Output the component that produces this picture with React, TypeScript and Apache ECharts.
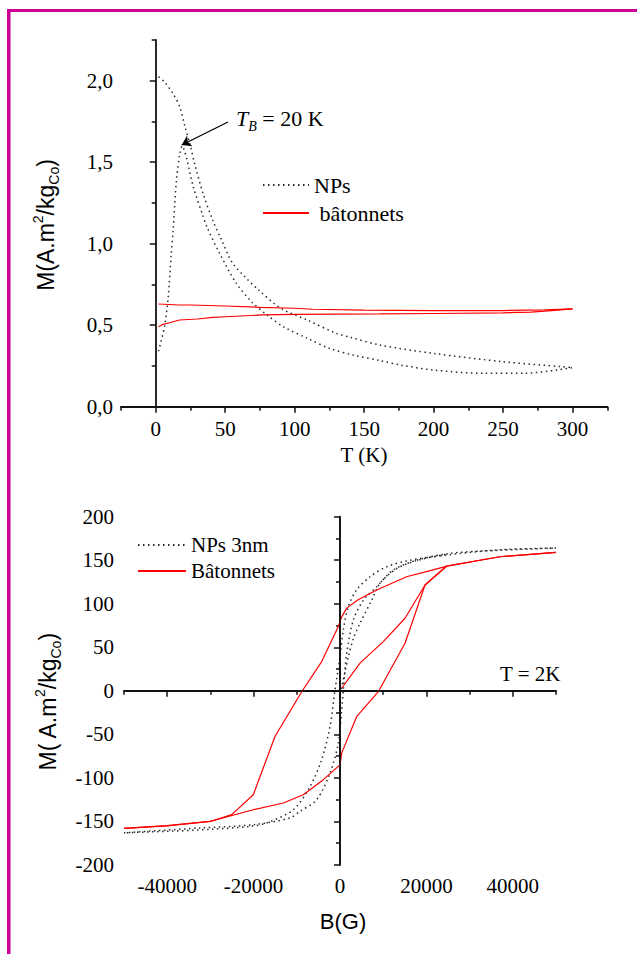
import React, { useEffect, useRef } from 'react';
import * as echarts from 'echarts';

// ---------- Top panel: M(T), ZFC / FC ----------
const npFcT = [2, 6.5, 12.5, 17.3, 21, 24.5, 28, 34, 41, 47, 55, 65, 74, 90, 109, 130, 140, 161, 200, 250, 293, 300];
const npFcM = [2.025, 1.99, 1.92, 1.84, 1.72, 1.615, 1.49, 1.31, 1.145, 1.03, 0.885, 0.79, 0.716, 0.604, 0.532, 0.45, 0.426, 0.379, 0.327, 0.276, 0.245, 0.24];
const npZfcT = [2, 6.5, 9, 11, 12.5, 14.9, 17.3, 19, 22, 27, 34, 37, 46, 58, 69, 80, 92, 109, 125, 142, 162, 176, 200, 236, 265, 289, 300];
const npZfcM = [0.34, 0.5, 0.675, 0.92, 1.08, 1.39, 1.55, 1.6, 1.53, 1.35, 1.17, 1.1, 0.94, 0.757, 0.644, 0.563, 0.49, 0.42, 0.358, 0.317, 0.282, 0.256, 0.225, 0.205, 0.205, 0.225, 0.24];
const rodUpT = [2, 17, 25, 50, 75, 100, 113, 150, 200, 250, 280, 300];
const rodUpM = [0.63, 0.624, 0.624, 0.618, 0.61, 0.604, 0.598, 0.593, 0.59, 0.59, 0.594, 0.6];
const rodLowT = [2, 5, 10, 17, 30, 41, 50, 77, 100, 161, 200, 250, 270, 285, 300];
const rodLowM = [0.49, 0.505, 0.515, 0.532, 0.538, 0.548, 0.552, 0.563, 0.566, 0.569, 0.572, 0.576, 0.58, 0.59, 0.6];

// ---------- Bottom panel: M(B) at 2 K ----------
const npDescB = [50000, 37000, 24700, 16200, 10800, 6950, 3860, 1930, 770, 0, -1160, -2310, -4240, -6950, -10800, -17000, -20800, -30000, -40000, -50000];
const npDescM = [164, 162, 156, 150, 142.5, 131, 116, 97, 70, 39, 1, -41, -79, -110, -136.5, -151.7, -155.6, -159, -161.3, -163];
const npAscB = [-50000, -32400, -20000, -11600, -9260, -5400, -2310, -390, 390, 770, 1550, 3090, 5400, 8500, 12350, 17750, 25460, 37000, 50000];
const npAscM = [-163, -157.5, -153.7, -146, -138.4, -125, -94.4, -60, -21.8, 1, 43, 81.4, 104, 119.6, 138.8, 150, 157.9, 161.5, 164];
const npVirginB = [300, 1000, 1930, 3100, 4630, 7330, 9260, 13000, 18000, 25000];
const npVirginM = [2, 18, 39, 60, 77.6, 104, 123.5, 140, 150, 157];
const rodDescB = [50000, 37000, 25000, 20000, 15400, 8500, 4000, 1550, 390, -390, -4240, -8870, -15050, -20070, -25070, -30000, -40000, -50000];
const rodDescM = [159, 154, 143.5, 137, 131, 115.8, 104, 95, 85, 74, 33.6, -1, -52.4, -119.3, -142.2, -150, -155, -158];
const rodAscB = [-50000, -40120, -30100, -20070, -13120, -8500, -3860, 0, 390, 3860, 8870, 15050, 19680, 24700, 37000, 50000];
const rodAscM = [-158, -154.8, -149.9, -136.5, -128.8, -119.3, -102, -85, -71.5, -29.5, -1, 54.7, 121.6, 143.3, 154, 159];
const rodVirginB = [390, 4630, 10020, 15050, 19680, 24700];
const rodVirginM = [3, 31.8, 56.5, 83.4, 121.6, 143.3];

// ---------- Ticks ----------
const topXMajor = [0, 50, 100, 150, 200, 250, 300];
const topXMinor = [-25, 25, 75, 125, 175, 225, 275, 325];
const topYMajor = [0, 0.5, 1, 1.5, 2];
const topYMinor = [0.25, 0.75, 1.25, 1.75, 2.25];
const botXMajor = [-40000, -20000, 0, 20000, 40000];
const botXMinor = [-50000, -30000, -10000, 10000, 30000, 50000];
const botYMajor = [-200, -150, -100, -50, 0, 50, 100, 150, 200];
const botYMinor = [-175, -125, -75, -25, 25, 75, 125, 175];

const pairs = (xs: number[], ys: number[]) => xs.map((x, i) => [x, ys[i]]);

const SERIF = 'Liberation Serif';
const SANS = 'Liberation Sans';
const AX = '#111';
const dotted = { color: '#2a2a2a', width: 1.5, type: [1.5, 3.5] as number[] };
const red = { color: '#ff0000', width: 1.2, type: 'solid' as const };

function majorAxis(kind: 'x' | 'y', grid: number, min: number, max: number, major: number[], fmt: (v: number) => string, margin: number) {
  return {
    type: 'value', gridIndex: grid, min, max,
    position: kind === 'x' ? 'bottom' : 'left',
    axisLine: { show: true, lineStyle: { color: AX, width: 1.8 } },
    axisTick: { show: true, inside: false, length: 6, customValues: major, lineStyle: { color: AX, width: 1.5 } },
    axisLabel: { show: true, customValues: major, formatter: fmt, margin, color: '#000', fontFamily: SERIF, fontSize: 21 },
    splitLine: { show: false },
  };
}
function minorAxis(kind: 'x' | 'y', grid: number, min: number, max: number, minor: number[]) {
  return {
    type: 'value', gridIndex: grid, min, max,
    position: kind === 'x' ? 'bottom' : 'left',
    axisLine: { show: false },
    axisTick: { show: true, inside: false, length: 4, customValues: minor, lineStyle: { color: AX, width: 1.5 } },
    axisLabel: { show: false },
    splitLine: { show: false },
  };
}

const yTitleRich = {
  a: { fontFamily: SANS, fontSize: 23, lineHeight: 30 },
  s: { fontFamily: SANS, fontSize: 14, verticalAlign: 'top' },
  b: { fontFamily: SANS, fontSize: 14, verticalAlign: 'bottom' },
};

export default function App() {
  const ref = useRef<HTMLDivElement>(null);
  useEffect(() => {
    if (!ref.current) return;
    const chart = echarts.init(ref.current, undefined, { renderer: 'svg' });
    const comma = (v: number) => v.toFixed(1).replace('.', ',');
    const plain = (v: number) => String(v);
    const line = (name: string, xs: number[], ys: number[], g: number, ls: any, smooth: number | boolean, extra: any = {}) => ({
      name, type: 'line', xAxisIndex: g * 2, yAxisIndex: g * 2,
      data: pairs(xs, ys), showSymbol: false, symbol: 'none', smooth,
      lineStyle: ls, itemStyle: { color: ls.color }, silent: true, ...extra,
    });
    chart.setOption({
      animation: false,
      backgroundColor: '#ffffff',
      grid: [
        { left: 121, top: 40, width: 486.3, height: 366.7 },
        { left: 124, top: 516.7, width: 432, height: 348.3 },
      ],
      xAxis: [
        majorAxis('x', 0, -25, 325, topXMajor, plain, 12),
        minorAxis('x', 0, -25, 325, topXMinor),
        majorAxis('x', 1, -50000, 50000, botXMajor, plain, 10),
        minorAxis('x', 1, -50000, 50000, botXMinor),
      ],
      yAxis: [
        majorAxis('y', 0, 0, 2.25, topYMajor, comma, 8),
        minorAxis('y', 0, 0, 2.25, topYMinor),
        majorAxis('y', 1, -200, 200, botYMajor, plain, 10),
        minorAxis('y', 1, -200, 200, botYMinor),
      ],
      legend: [
        {
          data: ['NPs', 'bâtonnets'], orient: 'vertical', left: 262, top: 174, padding: 0,
          itemWidth: 46, itemHeight: 14, itemGap: 6, selectedMode: false,
          itemStyle: { opacity: 0 },
          formatter: (n: string) => (n === 'bâtonnets' ? ' ' + n : n),
          textStyle: { fontFamily: SERIF, fontSize: 22, lineHeight: 22, color: '#000' },
        },
        {
          data: ['NPs 3nm', 'Bâtonnets'], orient: 'vertical', left: 137, top: 534.5, padding: 0,
          itemWidth: 48, itemHeight: 14, itemGap: 5, selectedMode: false,
          itemStyle: { opacity: 0 },
          textStyle: { fontFamily: SERIF, fontSize: 21, lineHeight: 21, color: '#000' },
        },
      ],
      series: [
        line('NPs', npFcT, npFcM, 0, dotted, 0.3, {
          markLine: {
            silent: true, symbol: ['none', 'arrow'], symbolSize: 9,
            lineStyle: { color: '#000', width: 1.2, type: 'solid' }, label: { show: false },
            data: [[{ coord: [52, 1.747] }, { coord: [18.7, 1.606] }]],
          },
        }),
        line('NPs', npZfcT, npZfcM, 0, dotted, 0.3),
        line('bâtonnets', rodUpT, rodUpM, 0, red, false),
        line('bâtonnets', rodLowT, rodLowM, 0, red, false),
        line('NPs 3nm', npDescB, npDescM, 1, dotted, 0.3, {
          markLine: {
            silent: true, symbol: ['none', 'none'],
            lineStyle: { color: AX, width: 1.5, type: 'solid' }, label: { show: false },
            data: [{ xAxis: 0 }, { yAxis: 0 }],
          },
        }),
        line('NPs 3nm', npAscB, npAscM, 1, dotted, 0.3),
        line('NPs 3nm', npVirginB, npVirginM, 1, dotted, 0.3),
        line('Bâtonnets', rodDescB, rodDescM, 1, red, false),
        line('Bâtonnets', rodAscB, rodAscM, 1, red, false),
        line('Bâtonnets', rodVirginB, rodVirginM, 1, red, false),
      ],
      graphic: [
        { type: 'rect', shape: { x: 7, y: 9, width: 630, height: 3 }, style: { fill: '#cc0099' }, silent: true },
        { type: 'rect', shape: { x: 7, y: 9, width: 3.5, height: 945 }, style: { fill: '#cc0099' }, silent: true },
        {
          type: 'text', x: 364, y: 455, silent: true,
          style: { text: 'T (K)', fontFamily: SERIF, fontSize: 21, fill: '#000', align: 'center', verticalAlign: 'middle' },
        },
        {
          type: 'text', x: 343, y: 921, silent: true,
          style: { text: 'B(G)', fontFamily: SANS, fontSize: 22, fill: '#000', align: 'center', verticalAlign: 'middle' },
        },
        {
          type: 'text', x: 46, y: 225, rotation: Math.PI / 2, silent: true,
          style: {
            text: '{a|M(A.m}{s|2}{a|/kg}{b|Co}{a|)}', align: 'center', verticalAlign: 'middle', fill: '#000',
            rich: yTitleRich,
          },
        },
        {
          type: 'text', x: 48, y: 702, rotation: Math.PI / 2, silent: true,
          style: {
            text: '{a|M( A.m}{s|2}{a|/kg}{b|Co}{a|)}', align: 'center', verticalAlign: 'middle', fill: '#000',
            rich: yTitleRich,
          },
        },
        {
          type: 'text', x: 236, y: 118, silent: true,
          style: {
            text: '{i|T}{b|B}{n| = 20 K}', align: 'left', verticalAlign: 'middle', fill: '#000',
            rich: {
              i: { fontFamily: SERIF, fontStyle: 'italic', fontSize: 22, lineHeight: 30 },
              b: { fontFamily: SERIF, fontStyle: 'italic', fontSize: 14, verticalAlign: 'bottom' },
              n: { fontFamily: SERIF, fontSize: 22, lineHeight: 30 },
            },
          },
        },
        {
          type: 'text', x: 500, y: 674, silent: true,
          style: { text: 'T = 2K', fontFamily: SERIF, fontSize: 21, fill: '#000', align: 'left', verticalAlign: 'middle' },
        },
      ],
    });
    return () => chart.dispose();
  }, []);
  return <div ref={ref} style={{ position: 'absolute', left: 0, top: 0, width: 637, height: 954 }} />;
}
